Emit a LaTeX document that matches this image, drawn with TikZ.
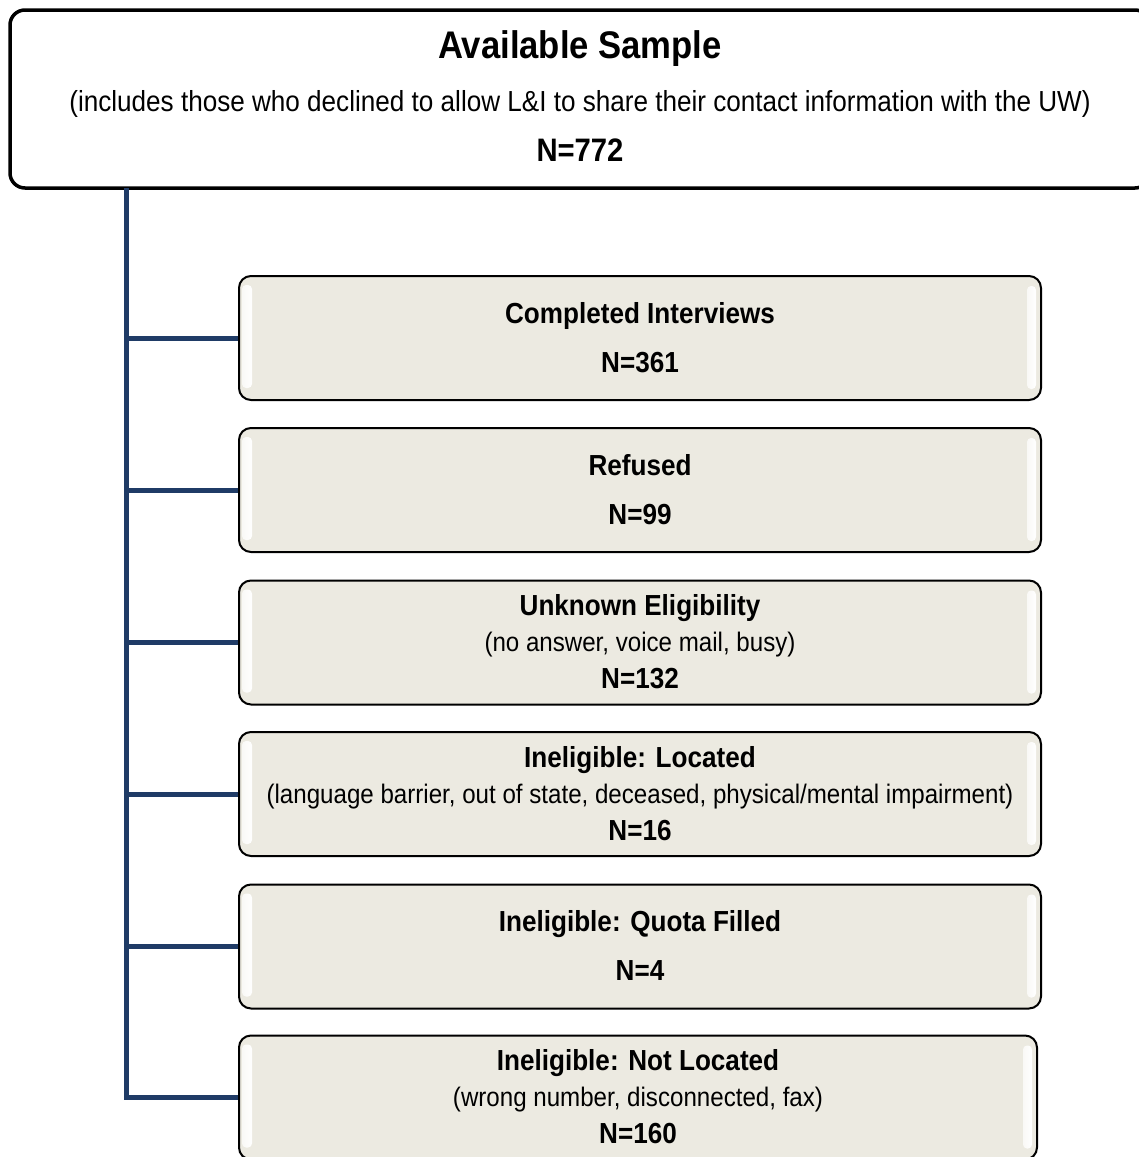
\documentclass[tikz,border=0pt]{standalone}
\usepackage{fontspec}
\setmainfont{Liberation Sans}[FakeStretch=0.9]
\definecolor{boxfill}{HTML}{ECEAE1}
\definecolor{connblue}{HTML}{1F3B66}
\begin{document}
\begin{tikzpicture}[x=1pt,y=1pt,
  topbox/.style={draw=black, line width=3.5pt, rounded corners=15pt, fill=white, minimum width=1140pt, minimum height=178pt, inner sep=0pt},
  catbox/.style={draw=black, line width=2pt, rounded corners=12pt, fill=boxfill, minimum width=802pt, minimum height=124pt, inner sep=0pt},
  conn/.style={draw=connblue, line width=5pt},
  bigttl/.style={font=\bfseries\fontsize{38.5}{44}\selectfont, anchor=base, inner sep=0pt},
  bign/.style={font=\bfseries\fontsize{32.5}{38}\selectfont, anchor=base, inner sep=0pt},
  bigsub/.style={font=\fontsize{29}{34}\selectfont, anchor=base, inner sep=0pt},
  ttl/.style={font=\bfseries\fontsize{29}{34}\selectfont, anchor=base, inner sep=0pt},
  sub/.style={font=\fontsize{26.8}{31}\selectfont, anchor=base, inner sep=0pt},
  shine/.style={rounded corners=4pt, left color=white!70!boxfill, right color=white}
]
\useasboundingbox (0,0) rectangle (1139,-1157);
\clip (0,0) rectangle (1139,-1157);
\fill[white] (0,0) rectangle (1139,-1157);

% top box
\node[topbox] (avail) at (580,-99) {};
\node[bigttl] (availt) at (580,-58) {Available Sample};
\node[bigsub] (avails) at (580,-111) {(includes those who declined to allow L\&I to share their contact information with the UW)};
\node[bign] (availn) at (580,-161) {N=772};

% category boxes
\node[catbox] (b1) at (640,-338) {};
\node[catbox] (b2) at (640,-490) {};
\node[catbox] (b3) at (640,-642.5) {};
\node[catbox] (b4) at (640,-794) {};
\node[catbox] (b5) at (640,-946.5) {};
\node[catbox, minimum width=798pt] (b6) at (638,-1097.5) {};

% highlight strips
\foreach \b in {b1,b2,b3,b4,b5,b6}{
  \shade[shine] ([xshift=4pt,yshift=-10pt]\b.north west) rectangle ([xshift=14pt,yshift=13pt]\b.south west);
  \shade[shine] ([xshift=-15pt,yshift=-11pt]\b.north east) rectangle ([xshift=-6pt,yshift=12pt]\b.south east);
}

% texts
\node[ttl] (b1t) at ([yshift=15pt]b1.center) {Completed Interviews};
\node[ttl] (b1n) at ([yshift=-34pt]b1.center) {N=361};

\node[ttl] (b2t) at ([yshift=15pt]b2.center) {Refused};
\node[ttl] (b2n) at ([yshift=-34pt]b2.center) {N=99};

\node[ttl] (b3t) at ([yshift=27pt]b3.center) {Unknown Eligibility};
\node[sub] (b3s) at ([yshift=-9pt]b3.center) {(no answer, voice mail, busy)};
\node[ttl] (b3n) at ([yshift=-46pt]b3.center) {N=132};

\node[ttl] (b4t) at ([yshift=27pt]b4.center) {Ineligible: Located};
\node[sub] (b4s) at ([yshift=-9pt]b4.center) {(language barrier, out of state, deceased, physical/mental impairment)};
\node[ttl] (b4n) at ([yshift=-46pt]b4.center) {N=16};

\node[ttl] (b5t) at ([yshift=15pt]b5.center) {Ineligible: Quota Filled};
\node[ttl] (b5n) at ([yshift=-34pt]b5.center) {N=4};

\node[ttl] (b6t) at ([yshift=27pt]b6.center) {Ineligible: Not Located};
\node[sub] (b6s) at ([yshift=-9pt]b6.center) {(wrong number, disconnected, fax)};
\node[ttl] (b6n) at ([yshift=-46pt]b6.center) {N=160};

% connectors
\coordinate (trunk) at (126,-188);
\draw[conn] (trunk) |- (b6.west);
\foreach \b in {b1,b2,b3,b4,b5}{
  \draw[conn] (trunk |- \b.west) -- (\b.west);
}
\end{tikzpicture}
\end{document}
